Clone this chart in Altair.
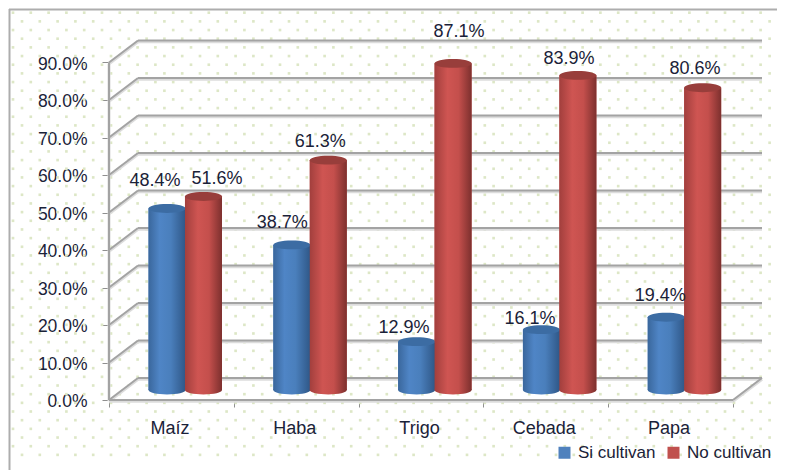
import altair as alt
import numpy as np
import pandas as pd

categories = ["Maíz", "Haba", "Trigo", "Cebada", "Papa"]
si_cultivan = [0.484, 0.387, 0.129, 0.161, 0.194]
no_cultivan = [0.516, 0.613, 0.871, 0.839, 0.806]
y_ticks = [0.0, 0.1, 0.2, 0.3, 0.4, 0.5, 0.6, 0.7, 0.8, 0.9]
x_ticks = [0, 1, 2, 3, 4, 5]
series_names = ["Si cultivan", "No cultivan"]

# Scale geometry: plot pixels per data unit
W, H = 769, 462
PX_X, PX_Y = 124.8, 375.0
X0, Y0 = 101.0, 392.0
x_scale = alt.Scale(domain=[-X0 / PX_X, (W - X0) / PX_X], nice=False, zero=False)
y_scale = alt.Scale(domain=[(Y0 - H) / PX_Y, Y0 / PX_Y], nice=False, zero=False)
DEPTH_X, DEPTH_Y = 29 / PX_X, 22 / PX_Y
BAR_DEPTH = 10 / PX_Y
BAR_HALF = 18.5 / PX_X
BLUE_POS, RED_POS = 0.465, 0.757

# Manual label nudges in pixels (blue, red)
blue_nudge_x = [-12, -9.5, -12.6, -11.4, -6]
blue_gap = [28.5, 22.9, 14.6, 11.6, 22.3]
red_nudge_x = [13.5, -8, 6, -8.8, -7.7]
red_gap = [18.5, 19.1, 32.4, 17.4, 19.8]

FONT = "Liberation Sans"
FS = 18
TEXT = "#1a2238"
GRID = "#a3a3a3"

axis_y = alt.Axis(
    values=y_ticks, format=".1%", offset=-X0, domain=False, grid=False,
    tickColor="#8f8f8f", tickSize=7, tickWidth=1, labelPadding=15, title=None,
    labelFont=FONT, labelFontSize=17.5, labelColor=TEXT, labelOffset=1.5,
)
axis_x = alt.Axis(
    values=x_ticks, labels=False, offset=-(H - Y0), domain=False, grid=False,
    tickColor="#8f8f8f", tickSize=7, tickWidth=1, title=None,
)


def xenc(field):
    return alt.X(field, type="quantitative", scale=x_scale, axis=axis_x)


def yenc(field):
    return alt.Y(field, type="quantitative", scale=y_scale, axis=axis_y)


def cyl_frame(values, pos, name, nudge, gap):
    cats = np.arange(len(values))
    d = pd.DataFrame({"cat": categories, "value": values, "series": name})
    d["cx"] = cats + pos
    d["x1"] = d["cx"] - BAR_HALF
    d["x2"] = d["cx"] + BAR_HALF
    d["base"] = BAR_DEPTH
    d["top"] = d["value"] + BAR_DEPTH
    d["lx"] = d["cx"] + np.array(nudge) / PX_X
    d["ly"] = d["top"] + np.array(gap) / PX_Y
    return d


blue = cyl_frame(si_cultivan, BLUE_POS, series_names[0], blue_nudge_x, blue_gap)
red = cyl_frame(no_cultivan, RED_POS, series_names[1], red_nudge_x, red_gap)

# Background dot pattern
dx, dy = [], []
for r in range(52):
    start = 13 if r % 2 == 0 else 22
    for px in np.arange(start, 780, 17.8):
        dx.append((px - 8 - X0) / PX_X)
        dy.append((Y0 - (12.7 + 8.67 * r - 8)) / PX_Y)
dots = pd.DataFrame({"x": dx, "y": dy})

# Grid
back_x1, back_x2 = DEPTH_X, 5 + DEPTH_X
grid_rows = []
for t in y_ticks:
    grid_rows.append(dict(x=back_x1, x2=back_x2, y=t + DEPTH_Y, y2=t + DEPTH_Y))
    grid_rows.append(dict(x=0, x2=back_x1, y=t, y2=t + DEPTH_Y))
grid_rows.append(dict(x=0, x2=0, y=0, y2=y_ticks[-1]))
grid_rows.append(dict(x=0, x2=5, y=0, y2=0))
grid_rows.append(dict(x=5, x2=back_x2, y=0, y2=DEPTH_Y))
grid = pd.DataFrame(grid_rows)


def grid_layer(width, color, shift=0.0):
    g = grid.copy()
    g["y"] = g["y"] - shift
    g["y2"] = g["y2"] - shift
    return alt.Chart(g).mark_rule(strokeWidth=width, color=color).encode(
        x=xenc("x"), x2="x2", y=yenc("y"), y2="y2"
    )


frame_top = alt.Chart(pd.DataFrame({"a": [0]})).mark_rule(color="#adadad", strokeWidth=2).encode(
    x=alt.value(1), x2=alt.value(W), y=alt.value(1.5)
)
frame_left = alt.Chart(pd.DataFrame({"a": [0]})).mark_rule(color="#adadad", strokeWidth=2).encode(
    x=alt.value(1.5), y=alt.value(1), y2=alt.value(H)
)
dot_layer = alt.Chart(dots).mark_square(size=7, color="#dde7c6", opacity=1, filled=True).encode(
    x=xenc("x"), y=yenc("y")
)

ELLIPSE = "M-1,0 A1,0.24 0 1,0 1,0 A1,0.24 0 1,0 -1,0 Z"
CAP_SIZE = 1369


def grad(stops):
    return {
        "gradient": "linear", "x1": 0, "x2": 1, "y1": 0, "y2": 0,
        "stops": [{"offset": o, "color": c} for o, c in stops],
    }


blue_grad = grad([(0, "#3a679c"), (0.3, "#4f85c6"), (0.6, "#4a7fbc"), (1, "#2f5787")])
red_grad = grad([(0, "#a23f3d"), (0.35, "#cf5552"), (0.65, "#c44f4c"), (1, "#7d302e")])

flat = alt.Chart(pd.concat([blue, red])).mark_rect().encode(
    x=xenc("x1"), x2="x2", y=yenc("base"), y2="top",
    color=alt.Color(
        "series:N",
        scale=alt.Scale(domain=series_names, range=["#4f81bd", "#c0504d"]),
        legend=alt.Legend(
            orient="none", legendX=548, legendY=436, direction="horizontal", title=None,
            symbolType="square", symbolSize=144, symbolStrokeWidth=0, labelFont=FONT,
            labelFontSize=17, labelColor=TEXT, labelOffset=5, columnPadding=9,
            labelLimit=200, padding=0,
        ),
    ),
)


def cylinder(d, g, cap):
    base = alt.Chart(d).mark_point(shape=ELLIPSE, size=CAP_SIZE, filled=True, fill=g, opacity=1, strokeWidth=0).encode(
        x=xenc("cx"), y=yenc("base")
    )
    body = alt.Chart(d).mark_rect(color=g).encode(
        x=xenc("x1"), x2="x2", y=yenc("base"), y2="top"
    )
    top = alt.Chart(d).mark_point(shape=ELLIPSE, size=CAP_SIZE, filled=True, fill=cap, opacity=1, strokeWidth=0).encode(
        x=xenc("cx"), y=yenc("top")
    )
    return [base, body, top]


all_labels = pd.concat([blue, red])
labels = alt.Chart(all_labels).mark_text(
    font=FONT, fontSize=FS, color=TEXT, baseline="middle", align="center", dy=1
).encode(
    x=xenc("lx"), y=yenc("ly"), text=alt.Text("value:Q", format=".1%")
)

cat_df = pd.DataFrame({"cat": categories, "x": np.arange(5) + 0.5 - 1.5 / PX_X, "y": -28.5 / PX_Y})
cat_labels = alt.Chart(cat_df).mark_text(
    font=FONT, fontSize=FS, color=TEXT, baseline="middle", align="center"
).encode(x=xenc("x"), y=yenc("y"), text="cat:N")

chart = alt.layer(
    dot_layer,
    frame_top,
    frame_left,
    grid_layer(3, "#dcdcdc", 1.2 / PX_Y),
    grid_layer(2, GRID),
    flat,
    *cylinder(blue, blue_grad, "#3c6ca3"),
    *cylinder(red, red_grad, "#983e3b"),
    labels,
    cat_labels,
).properties(
    width=W, height=H, padding=0, autosize="none", background="white"
).configure_view(stroke=None)

chart.save("out.html", embed_options={"renderer": "svg", "actions": False})
